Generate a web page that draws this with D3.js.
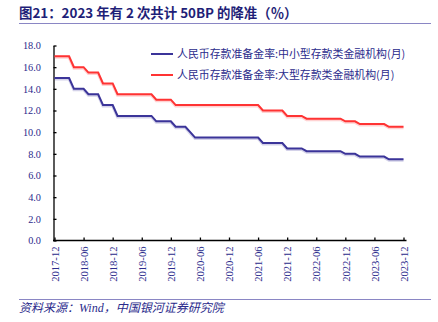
<!DOCTYPE html>
<html><head><meta charset="utf-8">
<script src="https://cdn.jsdelivr.net/npm/d3@7/dist/d3.min.js"></script>
<style>body{margin:0;background:#fff}</style>
</head><body>
<svg id="c" width="438" height="322"></svg>
<script>
const startYear = 2017, startMonth = 12, nMonths = 73;
const tickLabels = ["2017-12","2018-06","2018-12","2019-06","2019-12","2020-06","2020-12","2021-06","2021-12","2022-06","2022-12","2023-06","2023-12"];
const yTicks = [0,2,4,6,8,10,12,14,16,18];
const seriesNames = ["人民币存款准备金率:中小型存款类金融机构(月)","人民币存款准备金率:大型存款类金融机构(月)"];
const smallMedium = [15,15,15,15,14,14,14,13.5,13.5,13.5,12.5,12.5,12.5,
  11.5,11.5,11.5,11.5,11.5,11.5,11.5,11.5,11,11,11,11,
  10.5,10.5,10.5,10,9.5,9.5,9.5,9.5,9.5,9.5,9.5,9.5,9.5,9.5,9.5,9.5,9.5,9.5,
  9,9,9,9,9,8.5,8.5,8.5,8.5,8.25,8.25,8.25,8.25,8.25,8.25,8.25,8.25,
  8,8,8,7.75,7.75,7.75,7.75,7.75,7.75,7.5,7.5,7.5,7.5];
const large = [17,17,17,17,16,16,16,15.5,15.5,15.5,14.5,14.5,14.5,
  13.5,13.5,13.5,13.5,13.5,13.5,13.5,13.5,13,13,13,13,
  12.5,12.5,12.5,12.5,12.5,12.5,12.5,12.5,12.5,12.5,12.5,12.5,12.5,12.5,12.5,12.5,12.5,12.5,
  12,12,12,12,12,11.5,11.5,11.5,11.5,11.25,11.25,11.25,11.25,11.25,11.25,11.25,11.25,
  11,11,11,10.75,10.75,10.75,10.75,10.75,10.75,10.5,10.5,10.5,10.5];

const months = [];
for (let i = 0; i < nMonths; i++) {
  const m = startMonth - 1 + i;
  const y = startYear + Math.floor(m / 12), mm = (m % 12) + 1;
  months.push(y + "-" + String(mm).padStart(2, "0"));
}

const svg = d3.select("#c");
const navy = "#2b2b8c";
const blue = "#3b3499", red = "#ff3333";

svg.append("text").attr("x", 19).attr("y", 18)
  .attr("font-family", "'Noto Sans CJK SC', sans-serif").attr("font-weight", "bold")
  .attr("font-size", 13.4).attr("fill", "#1f1f78")
  .text("图21：2023 年有 2 次共计 50BP 的降准（％）");
svg.append("line").attr("x1", 19).attr("x2", 431).attr("y1", 23.5).attr("y2", 23.5)
  .attr("stroke", "#8a86c4").attr("stroke-width", 1);

const x = d3.scalePoint().domain(months).range([54.5, 403.5]);
const y = d3.scaleLinear().domain([0, 18]).range([240.5, 45.5]);

// y axis
const ya = svg.append("g").attr("transform", "translate(53.5,0)")
  .call(d3.axisLeft(y).tickValues(yTicks).tickFormat(d3.format(".1f")).tickSizeInner(-3).tickSizeOuter(0).tickPadding(12.5));
ya.select(".domain").attr("stroke", "#000").attr("stroke-width", 1.3);
ya.selectAll(".tick line").attr("stroke", "#000").attr("stroke-width", 1.3);
ya.selectAll("text").attr("font-family", "'Liberation Serif', serif").attr("font-size", 10.3).attr("fill", navy);

// x axis
const xa = svg.append("g").attr("transform", "translate(0,240.5)")
  .call(d3.axisBottom(x).tickValues(tickLabels).tickSizeInner(-3).tickSizeOuter(0));
xa.select(".domain").remove();
xa.append("line").attr("x1", 53).attr("x2", 406.5).attr("y1", 0).attr("y2", 0).attr("stroke", "#000").attr("stroke-width", 1.3);
xa.selectAll(".tick line").attr("stroke", "#000").attr("stroke-width", 1.3);
xa.selectAll(".tick text")
  .attr("transform", "rotate(-90)").attr("x", -6).attr("y", 0).attr("dy", "0.35em")
  .attr("text-anchor", "end")
  .attr("font-family", "'Liberation Serif', serif").attr("font-size", 10.6).attr("fill", navy);

// lines
const line = d3.line().x((d, i) => x(months[i])).y(d => y(d));
[[smallMedium, blue], [large, red]].forEach(([vals, col]) => {
  svg.append("path").datum(vals).attr("d", line).attr("fill", "none")
    .attr("stroke", col).attr("stroke-width", 3).attr("opacity", 0.22).attr("transform", "translate(0,1)");
  svg.append("path").datum(vals).attr("d", line).attr("fill", "none")
    .attr("stroke", col).attr("stroke-width", 2);
});

// legend
[[blue, 54], [red, 75]].forEach(([col, ly], i) => {
  svg.append("line").attr("x1", 151).attr("x2", 173).attr("y1", ly).attr("y2", ly)
    .attr("stroke", col).attr("stroke-width", 2);
  svg.append("text").attr("x", 177).attr("y", ly).attr("dy", "0.36em")
    .attr("font-family", "'Noto Sans CJK SC', sans-serif").attr("font-size", 10.9).attr("fill", navy)
    .text(seriesNames[i]);
});

svg.append("line").attr("x1", 19).attr("x2", 431).attr("y1", 299.5).attr("y2", 299.5)
  .attr("stroke", "#8a86c4").attr("stroke-width", 1);
svg.append("text").attr("x", 19).attr("y", 312)
  .attr("font-family", "'Liberation Serif', 'Noto Sans CJK SC', serif").attr("font-style", "italic")
  .attr("font-size", 12).attr("fill", navy)
  .text("资料来源：Wind，中国银河证券研究院");
</script>
</body></html>
